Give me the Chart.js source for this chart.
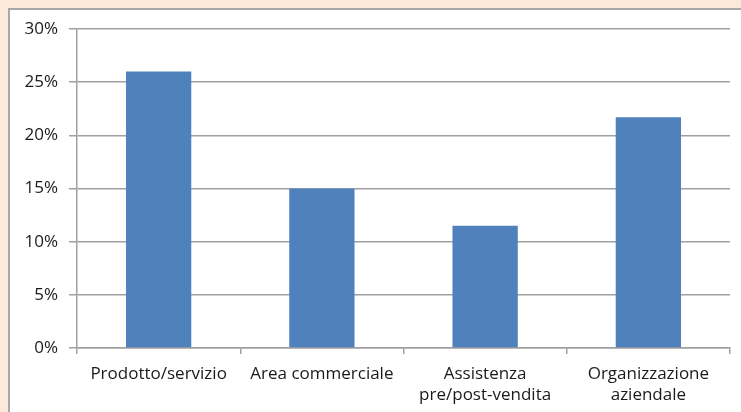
<!DOCTYPE html>
<html>
<head>
<meta charset="utf-8">
<script src="https://cdn.jsdelivr.net/npm/chart.js@4"></script>
<style>
    body { margin: 0; background: #fde9d9; width: 741px; height: 412px; overflow: hidden; position: relative; }
    #panel { position: absolute; left: 8px; top: 8px; width: 800px; height: 500px; background: #fff; border-left: 2px solid #a8a8a8; border-top: 2px solid #a8a8a8; }
    #barChart { position: absolute; left: 0; top: 0; }
</style>
</head>
<body>
<div id="panel"></div>
<canvas id="barChart" width="741" height="412"></canvas>
<script>
// catégories et valeurs (en %)
const categories = [
    "Prodotto/servizio",
    "Area commerciale",
    ["Assistenza", "pre/post-vendita"],
    ["Organizzazione", "aziendale"]
];
const values = [26, 15, 11.5, 21.7];
const yMax = 30;
const yStep = 5;

window.addEventListener("load", (event) => {
    const ctx = document.getElementById("barChart").getContext('2d');
    const fontLabel = { family: "'Open Sans', sans-serif", size: 17, lineHeight: 1.26 };

    const myBarChart = new Chart(ctx, {
        type: 'bar',
        data: {
            labels: categories,
            datasets: [{
                data: values,
                backgroundColor: '#4f81bd',
                borderWidth: 0,
                categoryPercentage: 1,
                barPercentage: 0.4
            }]
        },
        options: {
            responsive: false,
            animation: false,
            layout: { padding: { top: 29, right: 11, left: 0, bottom: 0 } },
            plugins: {
                legend: { display: false },
                tooltip: { enabled: false }
            },
            scales: {
                x: {
                    grid: { drawOnChartArea: false, drawTicks: true, tickLength: 6, color: '#a0a0a0', lineWidth: 1.5, offset: true },
                    border: { color: '#a0a0a0', width: 1.5 },
                    ticks: { color: '#1a1a1a', font: fontLabel, padding: 9, maxRotation: 0, autoSkip: false },
                    afterFit: function (axis) { axis.height = 412 - 348; }
                },
                y: {
                    min: 0,
                    max: yMax,
                    grid: { color: '#a0a0a0', lineWidth: 1.5, tickLength: 8 },
                    border: { color: '#a0a0a0', width: 1.5 },
                    ticks: {
                        stepSize: yStep,
                        color: '#1a1a1a',
                        font: { family: "'Open Sans', sans-serif", size: 17 },
                        padding: 11,
                        callback: function (v) { return v + '%'; }
                    },
                    afterFit: function (axis) { axis.width = 77; }
                }
            }
        }
    });
});
</script>
</body>
</html>
